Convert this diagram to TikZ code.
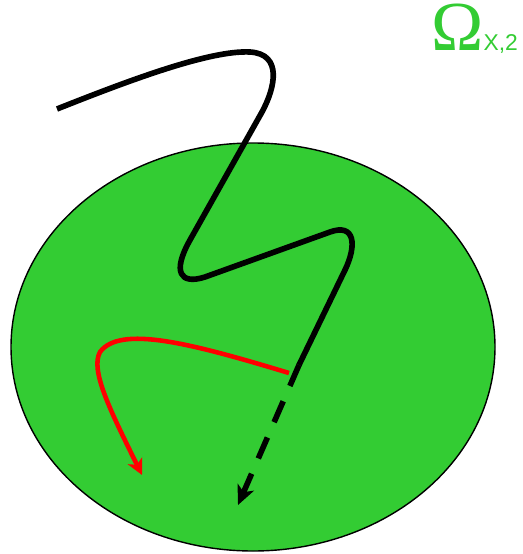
\documentclass[tikz,border=0pt]{standalone}
\usepackage{fontspec}
\usepackage{tikz}
\usetikzlibrary{arrows.meta}
\newfontfamily\omegafont{Liberation Serif}
\newfontfamily\subfont{Liberation Sans}
\definecolor{regiongreen}{RGB}{51,204,51}

\begin{document}
\begin{tikzpicture}[
  x=0.02cm, y=-0.02cm,
  region/.style={draw=black, line width=0.8pt, fill=regiongreen},
  walk/.style={line width=3.2pt, line join=round},
  cont/.style={walk, dash pattern=on 13pt off 9.5pt,
               -{Stealth[length=11pt, width=10pt, inset=3pt]}},
  redwalk/.style={draw=red, line width=2.6pt,
                  -{Stealth[length=9pt, width=9pt, inset=2.5pt]}},
  lbl/.style={text=regiongreen, inner sep=0pt, anchor=base west,
              text height=25pt, text depth=2pt}]
  \useasboundingbox (0,0) rectangle (523,554);
  \draw[region] (253,347) ellipse [x radius=242, y radius=204];
  \node[lbl] (omega) at (431,51)
    {{\omegafont\fontsize{40}{40}\selectfont Ω}{\subfont\fontsize{13}{14}\selectfont X,2}};
  \coordinate (start) at (57,109);
  \coordinate (hit) at (299,365);
  \coordinate (tip) at (238,505);
  \coordinate (redend) at (142,475);
  \draw[walk] (start) .. controls (130,80) and (210,50) .. (250,52)
    .. controls (283,54) and (275,88) .. (262,112) -- (190,240)
    .. controls (172,272) and (180,285) .. (205,277) -- (330,232)
    .. controls (355,223) and (357,245) .. (345,270) -- (hit);
  \draw[cont] (hit) -- (tip);
  \draw[redwalk] (289,373) .. controls (190,343) and (120,325) .. (100,352)
    .. controls (90,370) and (110,410) .. (redend);
\end{tikzpicture}
\end{document}
